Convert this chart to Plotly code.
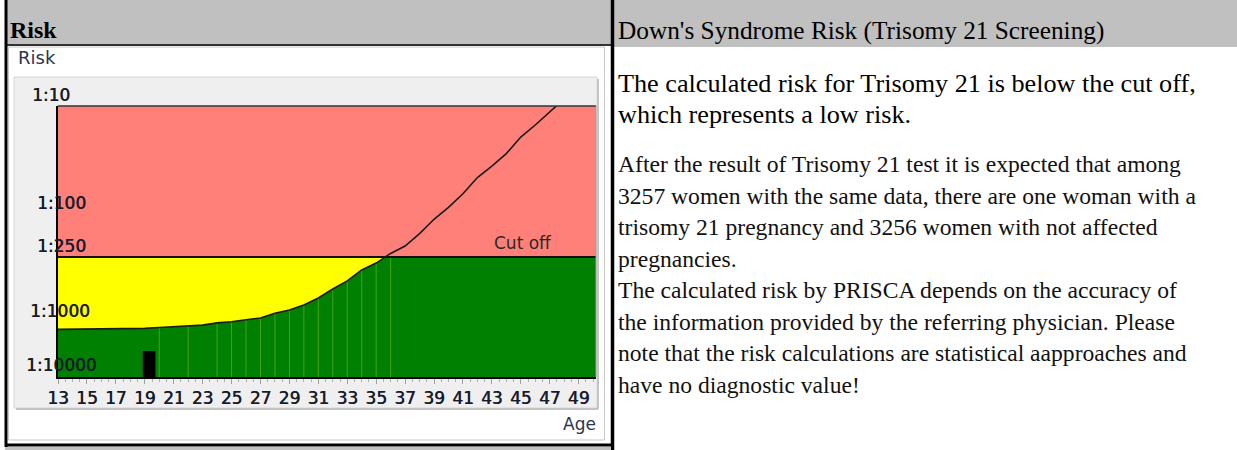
import numpy as np
import plotly.graph_objects as go

# ---------------- data ----------------
ages = [13, 15, 17, 19, 20, 21, 22, 23, 24, 25, 26, 27, 28, 29, 30, 31, 32,
        33, 34, 35, 36, 37, 38, 39, 40, 41, 42, 43, 44, 45, 46, 47, 48]
risk_den = [1173, 1161, 1161, 1148, 1125, 1110, 1090, 1070, 1020, 995, 955, 918,
            830, 774, 697, 600, 495, 417, 330, 285, 232, 198, 152, 112, 87, 65,
            46, 36, 27.6, 19.4, 15, 11.4, 8.6]
cutoff_den = 250
grid_ages = [20, 22, 24, 25, 26, 27, 28, 29, 30, 31, 32, 33, 34, 35, 36]
patient_age = 19.3
patient_level = 1860
x_ticks = list(range(13, 50, 2))
y_tick_pos = [1.0, 2.0, 2.398, 3.0, 3.5]
y_tick_text = ["1:10", "1:100", "1:250", "1:1000", "1:10000"]
y_tick_xc = [51, 61, 61, 60, 61]

x_range = [13, 50.2]
y_bottom, y_top = 3.51, 1.0

para_lines = [
    "After the result of Trisomy 21 test it is expected that among",
    "3257 women with the same data, there are one woman with a",
    "trisomy 21 pregnancy and 3256 women with not affected",
    "pregnancies.",
    "The calculated risk by PRISCA depends on the accuracy of",
    "the information provided by the referring physician. Please",
    "note that the risk calculations are statistical aapproaches and",
    "have no diagnostic value!",
]
bold_lines = [
    "The calculated risk for Trisomy 21 is below the cut off,",
    "which represents a low risk.",
]

# ---------------- geometry helpers ----------------
W, H = 1237, 450
L, R, T, B = 58, 596, 106, 377


def px(x):
    return (x - L) / (R - L)


def py(y):
    return (B - y) / (B - T)


v = np.log10(np.array(risk_den, dtype=float))
v_cut = np.log10(cutoff_den)
a = np.array(ages, dtype=float)

# crossing of curve with cutoff
idx = np.where(v < v_cut)[0][0]
x0, x1, y0, y1 = a[idx - 1], a[idx], v[idx - 1], v[idx]
x_cross = x0 + (v_cut - y0) / (y1 - y0) * (x1 - x0)

top_green_x = list(a[:idx]) + [x_cross, x_range[1]]
top_green_y = list(v[:idx]) + [v_cut, v_cut]

GREEN = "#008000"
YELLOW = "#FFFF00"
RED = "#FF8078"

fig = go.Figure()
# red zone
fig.add_trace(go.Scatter(
    x=[x_range[0], x_range[1], x_range[1], x_range[0], x_range[0]],
    y=[y_top, y_top, v_cut, v_cut, y_top],
    fill="toself", fillcolor=RED, mode="none", hoverinfo="skip"))
# yellow zone
fig.add_trace(go.Scatter(
    x=[x_range[0], x_range[1], x_range[1], x_range[0], x_range[0]],
    y=[v_cut, v_cut, y_bottom, y_bottom, v_cut],
    fill="toself", fillcolor=YELLOW, mode="none", hoverinfo="skip"))
# green zone
gx = [x_range[0]] + top_green_x + [x_range[1], x_range[0]]
gy = [y_bottom] + top_green_y + [y_bottom, y_bottom]
fig.add_trace(go.Scatter(x=gx, y=gy, fill="toself", fillcolor=GREEN,
                         mode="none", hoverinfo="skip"))
# light green vertical lines
lx, ly = [], []
for g in grid_ages:
    top = max(np.interp(g, a, v), v_cut)
    lx += [g, g, None]
    ly += [y_bottom, top, None]
fig.add_trace(go.Scatter(x=lx, y=ly, mode="lines",
                         line=dict(color="#47A30C", width=1), hoverinfo="skip"))
# patient bar (filled rectangle through the data axes)
bw = 0.44
p_top = np.log10(patient_level)
fig.add_trace(go.Scatter(
    x=[patient_age - bw, patient_age + bw, patient_age + bw, patient_age - bw, patient_age - bw],
    y=[y_bottom, y_bottom, p_top, p_top, y_bottom],
    fill="toself", fillcolor="black", mode="none", hoverinfo="skip"))
# cutoff line
fig.add_trace(go.Scatter(x=x_range, y=[v_cut, v_cut], mode="lines",
                         line=dict(color="#111111", width=2), hoverinfo="skip"))
# risk curve
fig.add_trace(go.Scatter(x=a, y=v, mode="lines",
                         line=dict(color="#1a1a1a", width=1.6), hoverinfo="skip"))

shapes = [
    # header bands
    dict(type="rect", xref="paper", yref="paper", x0=px(7), x1=px(611), y0=py(0), y1=py(44),
         fillcolor="#C0C0C0", line_width=0, layer="below"),
    dict(type="rect", xref="paper", yref="paper", x0=px(614), x1=px(1237), y0=py(0), y1=py(47),
         fillcolor="#C0C0C0", line_width=0, layer="below"),
    dict(type="line", xref="paper", yref="paper", x0=px(6), x1=px(611), y0=py(45), y1=py(45),
         line=dict(color="#333333", width=2)),
    # widget frame
    dict(type="rect", xref="paper", yref="paper", x0=px(8.5), x1=px(604.5), y0=py(47), y1=py(440),
         fillcolor="white", line=dict(color="#C8C8C8", width=1), layer="below"),
    # gray chart panel
    dict(type="rect", xref="paper", yref="paper", x0=px(14), x1=px(597), y0=py(77), y1=py(408),
         fillcolor="#EFEFEF", line=dict(color="#D6D6D6", width=1), layer="below"),
    dict(type="line", xref="paper", yref="paper", x0=px(598), x1=px(598), y0=py(79), y1=py(409),
         line=dict(color="#C4C4C4", width=2), layer="below"),
    dict(type="line", xref="paper", yref="paper", x0=px(16), x1=px(598), y0=py(409), y1=py(409),
         line=dict(color="#C4C4C4", width=2), layer="below"),
    # plot frame top/right
    dict(type="line", xref="paper", yref="paper", x0=0, x1=1, y0=1, y1=1,
         line=dict(color="#333333", width=1.5)),
    dict(type="line", xref="paper", yref="paper", x0=1, x1=1, y0=0, y1=1,
         line=dict(color="#9A9A9A", width=1)),
    # outer borders
    dict(type="line", xref="paper", yref="paper", x0=px(6), x1=px(6), y0=py(0), y1=py(447),
         line=dict(color="black", width=3)),
    dict(type="line", xref="paper", yref="paper", x0=px(612.5), x1=px(612.5), y0=py(0), y1=py(450),
         line=dict(color="black", width=3.5)),
    dict(type="line", xref="paper", yref="paper", x0=px(5), x1=px(614), y0=py(445), y1=py(445),
         line=dict(color="black", width=3)),
    dict(type="rect", xref="paper", yref="paper", x0=px(5), x1=px(611), y0=py(447), y1=py(450),
         fillcolor="#C0C0C0", line_width=0),
]

ann = []
SANS = "DejaVu Sans"
SERIF = "Liberation Serif"
TICKC = "#181c2c"
TICKFONT = dict(family=SANS, size=17, color=TICKC, shadow="0.5px 0px 0px #181c2c")
for pos, txt, xc in zip(y_tick_pos, y_tick_text, y_tick_xc):
    ann.append(dict(xref="paper", yref="y", x=px(xc), y=pos, text=txt, showarrow=False,
                    xanchor="center", yanchor="middle", yshift=11, font=TICKFONT))
ann.append(dict(xref="paper", yref="y", x=px(523), y=v_cut, text="Cut off", showarrow=False,
                xanchor="center", yanchor="middle", yshift=14,
                font=dict(family=SANS, size=17, color="#2a2a2a")))
ann.append(dict(xref="paper", yref="paper", x=px(16), y=py(58), text="Risk", showarrow=False,
                xanchor="left", yanchor="middle",
                font=dict(family=SANS, size=18, color="#2a3550")))
ann.append(dict(xref="paper", yref="paper", x=px(598), y=py(424), text="Age", showarrow=False,
                xanchor="right", yanchor="middle",
                font=dict(family=SANS, size=17, color="#2a3550")))
# headers
ann.append(dict(xref="paper", yref="paper", x=px(8), y=py(30), text="<b>Risk</b>", showarrow=False,
                xanchor="left", yanchor="middle", font=dict(family=SERIF, size=24, color="black")))
ann.append(dict(xref="paper", yref="paper", x=px(616), y=py(30),
                text="Down's Syndrome Risk (Trisomy 21 Screening)", showarrow=False,
                xanchor="left", yanchor="middle", font=dict(family=SERIF, size=25.3, color="black")))
for i, line in enumerate(bold_lines):
    ann.append(dict(xref="paper", yref="paper", x=px(616), y=py(83 + 31 * i), text=line,
                    showarrow=False, xanchor="left", yanchor="middle",
                    font=dict(family=SERIF, size=26.2, color="black")))
for i, line in enumerate(para_lines):
    ann.append(dict(xref="paper", yref="paper", x=px(616), y=py(164 + 31.5 * i), text=line,
                    showarrow=False, xanchor="left", yanchor="middle",
                    font=dict(family=SERIF, size=23.6, color="#111111")))

fig.update_layout(
    width=W, height=H,
    margin=dict(l=L, r=W - R, t=T, b=H - B, pad=0),
    paper_bgcolor="white", plot_bgcolor="rgba(0,0,0,0)",
    showlegend=False, hovermode=False,
    shapes=shapes, annotations=ann,
    xaxis=dict(range=x_range, tickvals=x_ticks, ticktext=[str(t) for t in x_ticks],
               showgrid=False, zeroline=False, showline=True, linecolor="black", linewidth=2,
               ticks="outside", ticklen=5, tickcolor="#A0A0A0", tickwidth=1,
               minor=dict(dtick=0.5, tick0=13, ticks="outside", ticklen=3, tickcolor="#B0B0B0"),
               tickfont=TICKFONT, fixedrange=True),
    yaxis=dict(range=[y_bottom, y_top], showticklabels=False, showgrid=False, zeroline=False,
               showline=True, linecolor="black", linewidth=2, ticks="", fixedrange=True),
)

fig.write_html("out.html", config={"displayModeBar": False},
               post_script="document.body.style.margin='0';document.body.style.overflow='hidden';")
